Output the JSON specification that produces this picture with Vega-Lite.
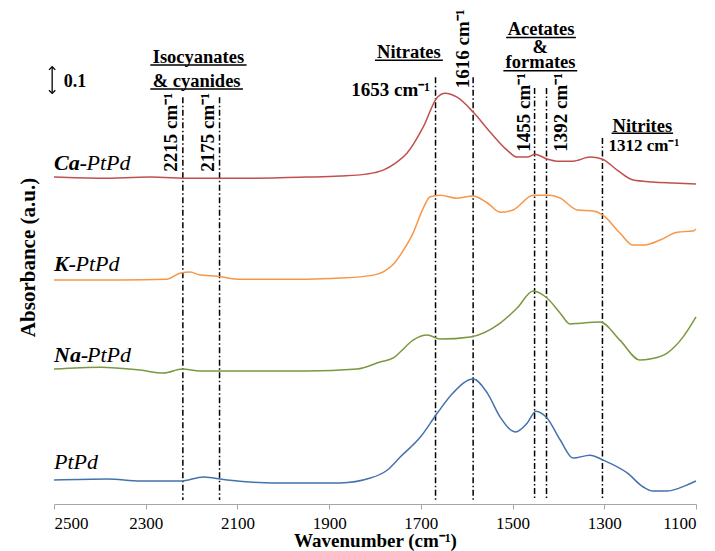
{
  "$schema": "https://vega.github.io/schema/vega-lite/v6.json",
  "width": 642,
  "height": 494,
  "autosize": {"type": "none"},
  "padding": {"left": 54, "top": 10, "right": 19, "bottom": 47},
  "background": "white",
  "config": {"view": {"stroke": null}, "font": "Liberation Serif"},
  "encoding": {
    "x": {
      "field": "w", "type": "quantitative",
      "scale": {"domain": [1100, 2500], "reverse": true, "nice": false, "zero": false},
      "axis": {
        "values": [2500, 2300, 2100, 1900, 1700, 1500, 1300, 1100], "format": "d",
        "grid": false, "domainColor": "#A6A6A6", "tickColor": "#A6A6A6", "tickSize": 5,
        "labelFont": "Liberation Serif", "labelFontSize": 17, "labelColor": "black", "labelPadding": 6,
        "title": "Wavenumber (cm⁻¹)", "titleFont": "Liberation Serif", "titleFontSize": 19,
        "titleFontWeight": "bold", "titleColor": "black", "titlePadding": 0
      }
    },
    "y": {
      "field": "a", "type": "quantitative",
      "scale": {"domain": [0, 1.83], "nice": false, "zero": false},
      "axis": {
        "labels": false, "ticks": false, "domain": false, "grid": false,
        "title": "Absorbance (a.u.)", "titleFont": "Liberation Serif", "titleFontSize": 21,
        "titleFontWeight": "bold", "titleColor": "black", "titlePadding": 16
      }
    }
  },
  "layer": [
    {
      "data": {"values": [
        {"w": 2219, "a": 1.507, "a2": 0.015},
        {"w": 2139, "a": 1.507, "a2": 0.015},
        {"w": 1668, "a": 1.581, "a2": 0.015},
        {"w": 1586, "a": 1.581, "a2": 0.015},
        {"w": 1452, "a": 1.541, "a2": 0.015},
        {"w": 1426, "a": 1.541, "a2": 0.015},
        {"w": 1304, "a": 1.356, "a2": 0.015}
      ]},
      "mark": {"type": "rule", "color": "black", "strokeWidth": 1.5, "strokeDash": [6, 2.5, 1.5, 2.5]},
      "encoding": {"y2": {"field": "a2"}}
    },
    {
      "data": {"values": [
        {"s": "Ca", "w": 2500, "a": 1.211}, {"s": "Ca", "w": 2400, "a": 1.207}, {"s": "Ca", "w": 2290, "a": 1.211},
        {"s": "Ca", "w": 2200, "a": 1.207}, {"s": "Ca", "w": 2072, "a": 1.207}, {"s": "Ca", "w": 1950, "a": 1.211},
        {"s": "Ca", "w": 1876, "a": 1.215}, {"s": "Ca", "w": 1820, "a": 1.222}, {"s": "Ca", "w": 1782, "a": 1.237},
        {"s": "Ca", "w": 1756, "a": 1.262}, {"s": "Ca", "w": 1730, "a": 1.300}, {"s": "Ca", "w": 1695, "a": 1.396},
        {"s": "Ca", "w": 1664, "a": 1.507}, {"s": "Ca", "w": 1647, "a": 1.522}, {"s": "Ca", "w": 1621, "a": 1.507},
        {"s": "Ca", "w": 1586, "a": 1.452}, {"s": "Ca", "w": 1549, "a": 1.378}, {"s": "Ca", "w": 1512, "a": 1.311},
        {"s": "Ca", "w": 1490, "a": 1.285}, {"s": "Ca", "w": 1468, "a": 1.285}, {"s": "Ca", "w": 1451, "a": 1.296},
        {"s": "Ca", "w": 1425, "a": 1.278}, {"s": "Ca", "w": 1403, "a": 1.270}, {"s": "Ca", "w": 1368, "a": 1.270},
        {"s": "Ca", "w": 1331, "a": 1.285}, {"s": "Ca", "w": 1305, "a": 1.278}, {"s": "Ca", "w": 1272, "a": 1.237},
        {"s": "Ca", "w": 1237, "a": 1.200}, {"s": "Ca", "w": 1194, "a": 1.193}, {"s": "Ca", "w": 1150, "a": 1.189},
        {"s": "Ca", "w": 1100, "a": 1.185},

        {"s": "K", "w": 2500, "a": 0.830}, {"s": "K", "w": 2355, "a": 0.830}, {"s": "K", "w": 2253, "a": 0.833},
        {"s": "K", "w": 2224, "a": 0.856}, {"s": "K", "w": 2203, "a": 0.859}, {"s": "K", "w": 2181, "a": 0.848},
        {"s": "K", "w": 2144, "a": 0.844}, {"s": "K", "w": 2100, "a": 0.833}, {"s": "K", "w": 1948, "a": 0.833},
        {"s": "K", "w": 1876, "a": 0.837}, {"s": "K", "w": 1810, "a": 0.846}, {"s": "K", "w": 1780, "a": 0.862},
        {"s": "K", "w": 1760, "a": 0.888}, {"s": "K", "w": 1740, "a": 0.935}, {"s": "K", "w": 1718, "a": 1.000},
        {"s": "K", "w": 1695, "a": 1.095}, {"s": "K", "w": 1680, "a": 1.138}, {"s": "K", "w": 1658, "a": 1.144},
        {"s": "K", "w": 1621, "a": 1.133}, {"s": "K", "w": 1586, "a": 1.141}, {"s": "K", "w": 1555, "a": 1.115},
        {"s": "K", "w": 1527, "a": 1.081}, {"s": "K", "w": 1499, "a": 1.089}, {"s": "K", "w": 1455, "a": 1.144},
        {"s": "K", "w": 1418, "a": 1.144}, {"s": "K", "w": 1396, "a": 1.133}, {"s": "K", "w": 1359, "a": 1.089},
        {"s": "K", "w": 1324, "a": 1.085}, {"s": "K", "w": 1303, "a": 1.070}, {"s": "K", "w": 1266, "a": 1.004},
        {"s": "K", "w": 1237, "a": 0.959}, {"s": "K", "w": 1215, "a": 0.959}, {"s": "K", "w": 1178, "a": 0.978},
        {"s": "K", "w": 1141, "a": 1.007}, {"s": "K", "w": 1107, "a": 1.011}, {"s": "K", "w": 1100, "a": 1.019},

        {"s": "Na", "w": 2500, "a": 0.500}, {"s": "Na", "w": 2399, "a": 0.507}, {"s": "Na", "w": 2312, "a": 0.496},
        {"s": "Na", "w": 2261, "a": 0.485}, {"s": "Na", "w": 2220, "a": 0.500}, {"s": "Na", "w": 2181, "a": 0.493},
        {"s": "Na", "w": 1948, "a": 0.493}, {"s": "Na", "w": 1839, "a": 0.500}, {"s": "Na", "w": 1789, "a": 0.526},
        {"s": "Na", "w": 1760, "a": 0.541}, {"s": "Na", "w": 1745, "a": 0.563}, {"s": "Na", "w": 1717, "a": 0.607},
        {"s": "Na", "w": 1686, "a": 0.626}, {"s": "Na", "w": 1658, "a": 0.611}, {"s": "Na", "w": 1592, "a": 0.619},
        {"s": "Na", "w": 1527, "a": 0.670}, {"s": "Na", "w": 1490, "a": 0.726}, {"s": "Na", "w": 1455, "a": 0.789},
        {"s": "Na", "w": 1425, "a": 0.763}, {"s": "Na", "w": 1396, "a": 0.707}, {"s": "Na", "w": 1375, "a": 0.667},
        {"s": "Na", "w": 1353, "a": 0.670}, {"s": "Na", "w": 1309, "a": 0.674}, {"s": "Na", "w": 1266, "a": 0.607},
        {"s": "Na", "w": 1222, "a": 0.533}, {"s": "Na", "w": 1200, "a": 0.537}, {"s": "Na", "w": 1163, "a": 0.559},
        {"s": "Na", "w": 1128, "a": 0.619}, {"s": "Na", "w": 1100, "a": 0.693},

        {"s": "PtPd", "w": 2500, "a": 0.089}, {"s": "PtPd", "w": 2383, "a": 0.093}, {"s": "PtPd", "w": 2312, "a": 0.085},
        {"s": "PtPd", "w": 2224, "a": 0.085}, {"s": "PtPd", "w": 2174, "a": 0.100}, {"s": "PtPd", "w": 2122, "a": 0.089},
        {"s": "PtPd", "w": 2022, "a": 0.078}, {"s": "PtPd", "w": 1876, "a": 0.078}, {"s": "PtPd", "w": 1810, "a": 0.096},
        {"s": "PtPd", "w": 1773, "a": 0.126}, {"s": "PtPd", "w": 1745, "a": 0.174}, {"s": "PtPd", "w": 1701, "a": 0.248},
        {"s": "PtPd", "w": 1664, "a": 0.337}, {"s": "PtPd", "w": 1630, "a": 0.411}, {"s": "PtPd", "w": 1586, "a": 0.463},
        {"s": "PtPd", "w": 1555, "a": 0.411}, {"s": "PtPd", "w": 1527, "a": 0.322}, {"s": "PtPd", "w": 1494, "a": 0.267},
        {"s": "PtPd", "w": 1468, "a": 0.300}, {"s": "PtPd", "w": 1449, "a": 0.344}, {"s": "PtPd", "w": 1425, "a": 0.319},
        {"s": "PtPd", "w": 1396, "a": 0.237}, {"s": "PtPd", "w": 1368, "a": 0.170}, {"s": "PtPd", "w": 1331, "a": 0.181},
        {"s": "PtPd", "w": 1303, "a": 0.163}, {"s": "PtPd", "w": 1250, "a": 0.115}, {"s": "PtPd", "w": 1215, "a": 0.063},
        {"s": "PtPd", "w": 1194, "a": 0.048}, {"s": "PtPd", "w": 1163, "a": 0.048}, {"s": "PtPd", "w": 1141, "a": 0.056},
        {"s": "PtPd", "w": 1120, "a": 0.070}, {"s": "PtPd", "w": 1100, "a": 0.085}
      ]},
      "mark": {"type": "line", "strokeWidth": 1.5, "interpolate": "monotone"},
      "encoding": {
        "color": {"field": "s", "type": "nominal", "legend": null,
          "scale": {"domain": ["Ca", "K", "Na", "PtPd"], "range": ["#C0504D", "#F79646", "#7A983F", "#4572AE"]}}
      }
    },
    {
      "data": {"values": [
        {"w": 2290, "w2": 2080, "a": 1.626},
        {"w": 2290, "w2": 2088, "a": 1.537},
        {"w": 1800, "w2": 1652, "a": 1.644},
        {"w": 1514, "w2": 1362, "a": 1.728},
        {"w": 1520, "w2": 1359, "a": 1.605},
        {"w": 1284, "w2": 1150, "a": 1.373}
      ]},
      "mark": {"type": "rule", "color": "black", "strokeWidth": 1.5},
      "encoding": {"x2": {"field": "w2"}}
    },
    {
      "data": {"values": [
        {"t": "Isocyanates", "w": 2185, "a": 1.633},
        {"t": "& cyanides", "w": 2189, "a": 1.546},
        {"t": "Nitrates", "w": 1726, "a": 1.654},
        {"t": "Acetates", "w": 1438, "a": 1.737},
        {"t": "&", "w": 1440, "a": 1.671},
        {"t": "formates", "w": 1439, "a": 1.614},
        {"t": "Nitrites", "w": 1217, "a": 1.379}
      ]},
      "mark": {"type": "text", "font": "Liberation Serif", "fontWeight": "bold", "fontSize": 18.5, "align": "center", "baseline": "alphabetic", "color": "black"},
      "encoding": {"text": {"field": "t"}}
    },
    {
      "data": {"values": [
        {"t": "1653 cm⁻¹", "w": 1680, "a": 1.511}
      ]},
      "mark": {"type": "text", "font": "Liberation Serif", "fontWeight": "bold", "fontSize": 19, "align": "right", "baseline": "alphabetic", "color": "black"},
      "encoding": {"text": {"field": "t"}}
    },
    {
      "data": {"values": [
        {"t": "1312 cm⁻¹", "w": 1291, "a": 1.309, "f": 17},
        {"t": "0.1", "w": 2479, "a": 1.545, "f": 18}
      ]},
      "mark": {"type": "text", "font": "Liberation Serif", "fontWeight": "bold", "align": "left", "baseline": "alphabetic", "color": "black"},
      "encoding": {"text": {"field": "t"}, "size": {"field": "f", "type": "quantitative", "scale": null}}
    },
    {
      "data": {"values": [
        {"t": "2215 cm⁻¹", "w": 2231, "a": 1.231},
        {"t": "2175 cm⁻¹", "w": 2152, "a": 1.231},
        {"t": "1616 cm⁻¹", "w": 1596, "a": 1.540},
        {"t": "1455 cm⁻¹", "w": 1463, "a": 1.305},
        {"t": "1392 cm⁻¹", "w": 1382, "a": 1.305}
      ]},
      "mark": {"type": "text", "font": "Liberation Serif", "fontWeight": "bold", "fontSize": 19, "angle": 270, "align": "left", "baseline": "alphabetic", "color": "black"},
      "encoding": {"text": {"field": "t"}}
    },
    {
      "data": {"values": [
        {"t": "Ca-", "w": 2500, "a": 1.237},
        {"t": "K-", "w": 2500, "a": 0.864},
        {"t": "Na-", "w": 2500, "a": 0.527}
      ]},
      "mark": {"type": "text", "font": "Liberation Serif", "fontWeight": "bold", "fontStyle": "italic", "fontSize": 22, "align": "left", "baseline": "alphabetic", "color": "black"},
      "encoding": {"text": {"field": "t"}}
    },
    {
      "data": {"values": [
        {"t": "PtPd", "w": 2429, "a": 1.237},
        {"t": "PtPd", "w": 2453, "a": 0.864},
        {"t": "PtPd", "w": 2428, "a": 0.527},
        {"t": "PtPd", "w": 2500, "a": 0.128}
      ]},
      "mark": {"type": "text", "font": "Liberation Serif", "fontStyle": "italic", "fontSize": 22, "align": "left", "baseline": "alphabetic", "color": "black"},
      "encoding": {"text": {"field": "t"}}
    },
    {
      "data": {"values": [{"w": 2504, "a": 1.619, "a2": 1.523}]},
      "mark": {"type": "rule", "color": "black", "strokeWidth": 1.3},
      "encoding": {"y2": {"field": "a2"}}
    },
    {
      "data": {"values": [
        {"w": 2504, "a": 1.620, "shp": "up"},
        {"w": 2504, "a": 1.521, "shp": "down"}
      ]},
      "mark": {"type": "point", "filled": false, "color": "black", "strokeWidth": 1.3, "size": 40, "opacity": 1},
      "encoding": {
        "shape": {"field": "shp", "type": "nominal", "legend": null,
          "scale": {"domain": ["up", "down"], "range": ["M-1,1L0,0L1,1", "M-1,-1L0,0L1,-1"]}}
      }
    }
  ]
}
